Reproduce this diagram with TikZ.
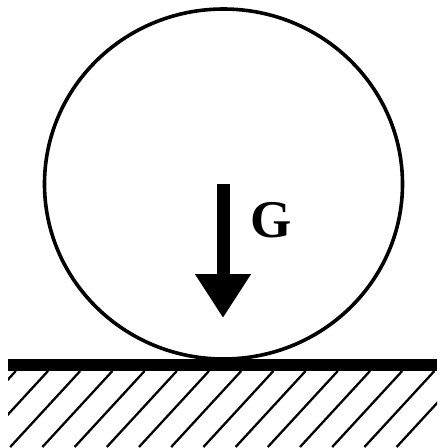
\documentclass[tikz,border=0pt]{standalone}
\usepackage{fontspec}
\setmainfont{Liberation Serif}
\usetikzlibrary{arrows.meta}

\tikzset{
  wheel/.style={line width=3.6pt,black},
  ground/.style={fill=black},
  hatchline/.style={line width=2.3pt,black},
  force/.style={line width=13pt,-{Triangle[width=53pt,length=44pt]}},
  forcelabel/.style={font=\fontsize{53}{53}\selectfont\bfseries}
}

\begin{document}
\begin{tikzpicture}[x=1pt,y=-1pt]
  \useasboundingbox (0,0) rectangle (444,448);
  % rad
  \coordinate (c) at (223.5,184);
  \draw[wheel] (c) ellipse [x radius=179, y radius=175];
  % boden
  \fill[ground] (8,359) rectangle (437,371);
  \begin{scope}
    \clip (8,371) rectangle (437,447);
    \foreach \k in {-1,...,13}
      \draw[hatchline] ({48+32.2*\k-70},447) -- ({48+32.2*\k},371);
  \end{scope}
  % gewichtskraft
  \coordinate (g0) at (223,184);
  \coordinate (g1) at (223,318);
  \draw[force] (g0) -- (g1);
  \node[forcelabel,anchor=base west] (G) at (247,237) {G};
\end{tikzpicture}
\end{document}
